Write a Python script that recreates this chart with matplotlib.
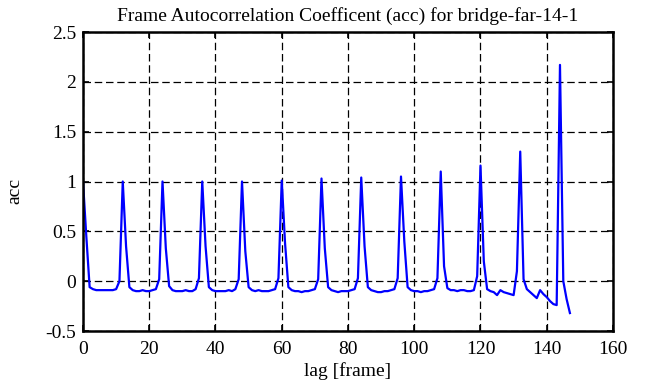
import numpy as np
import matplotlib
matplotlib.use('Agg')
import matplotlib.pyplot as plt

# acc per lag, one row per 12-frame cycle (lag 12k .. 12k+11)
acc_rows = [
    [1.00, 0.45, -0.06, -0.08, -0.09, -0.09, -0.09, -0.09, -0.09, -0.09, -0.08, 0.00],
    [1.00, 0.35, -0.06, -0.09, -0.10, -0.10, -0.09, -0.10, -0.10, -0.09, -0.08, 0.02],
    [1.00, 0.33, -0.05, -0.09, -0.10, -0.10, -0.10, -0.09, -0.10, -0.10, -0.08, 0.03],
    [1.00, 0.35, -0.06, -0.09, -0.10, -0.10, -0.10, -0.10, -0.09, -0.10, -0.08, 0.02],
    [1.00, 0.30, -0.06, -0.09, -0.10, -0.09, -0.10, -0.10, -0.10, -0.09, -0.08, 0.03],
    [1.01, 0.38, -0.06, -0.09, -0.10, -0.10, -0.11, -0.10, -0.10, -0.09, -0.08, 0.02],
    [1.03, 0.33, -0.06, -0.09, -0.10, -0.11, -0.10, -0.10, -0.10, -0.09, -0.08, 0.03],
    [1.04, 0.35, -0.06, -0.09, -0.10, -0.11, -0.11, -0.10, -0.10, -0.09, -0.08, 0.03],
    [1.05, 0.40, -0.06, -0.09, -0.10, -0.10, -0.11, -0.10, -0.10, -0.09, -0.08, 0.03],
    [1.10, 0.15, -0.07, -0.09, -0.09, -0.10, -0.09, -0.09, -0.10, -0.10, -0.09, 0.05],
    [1.16, 0.20, -0.08, -0.10, -0.11, -0.14, -0.09, -0.11, -0.12, -0.13, -0.14, 0.10],
    [1.30, 0.02, -0.08, -0.11, -0.14, -0.17, -0.09, -0.13, -0.16, -0.20, -0.23, -0.24],
    [2.17, 0.00, -0.18, -0.32],
]
acc = np.concatenate([np.array(r) for r in acc_rows])
lag = np.arange(len(acc))

plt.rcParams['font.family'] = ['Liberation Serif', 'DejaVu Serif']

fig = plt.figure(figsize=(6.51, 3.87), dpi=100)
ax = fig.add_axes([0.1275, 0.1447, 0.8141, 0.7726])

ax.plot(lag, acc, color=(0, 0, 1), lw=1.6)

ax.set_xlim(0, 160)
ax.set_ylim(-0.5, 2.5)
ax.set_xticks(np.arange(0, 161, 20))
ax.set_yticks([-0.5, 0, 0.5, 1, 1.5, 2, 2.5])
ax.set_yticklabels(['-0.5', '0', '0.5', '1', '1.5', '2', '2.5'])
ax.grid(True, color='black', lw=0.9, linestyle=(0, (6, 3)))
ax.tick_params(direction='in', top=True, right=True, length=4, width=1.2,
               labelsize=14)
ax.tick_params(axis='x', pad=7)
ax.tick_params(axis='y', pad=5)
for s in ax.spines.values():
    s.set_linewidth(1.8)

ax.set_title('Frame Autocorrelation Coefficent (acc) for bridge-far-14-1', fontsize=14, pad=8)
ax.set_xlabel('lag [frame]', fontsize=14, labelpad=3)
ax.set_ylabel('acc', fontsize=14)
ax.yaxis.set_label_coords(-0.112, 0.47)

fig.savefig('out.png', dpi=100)
